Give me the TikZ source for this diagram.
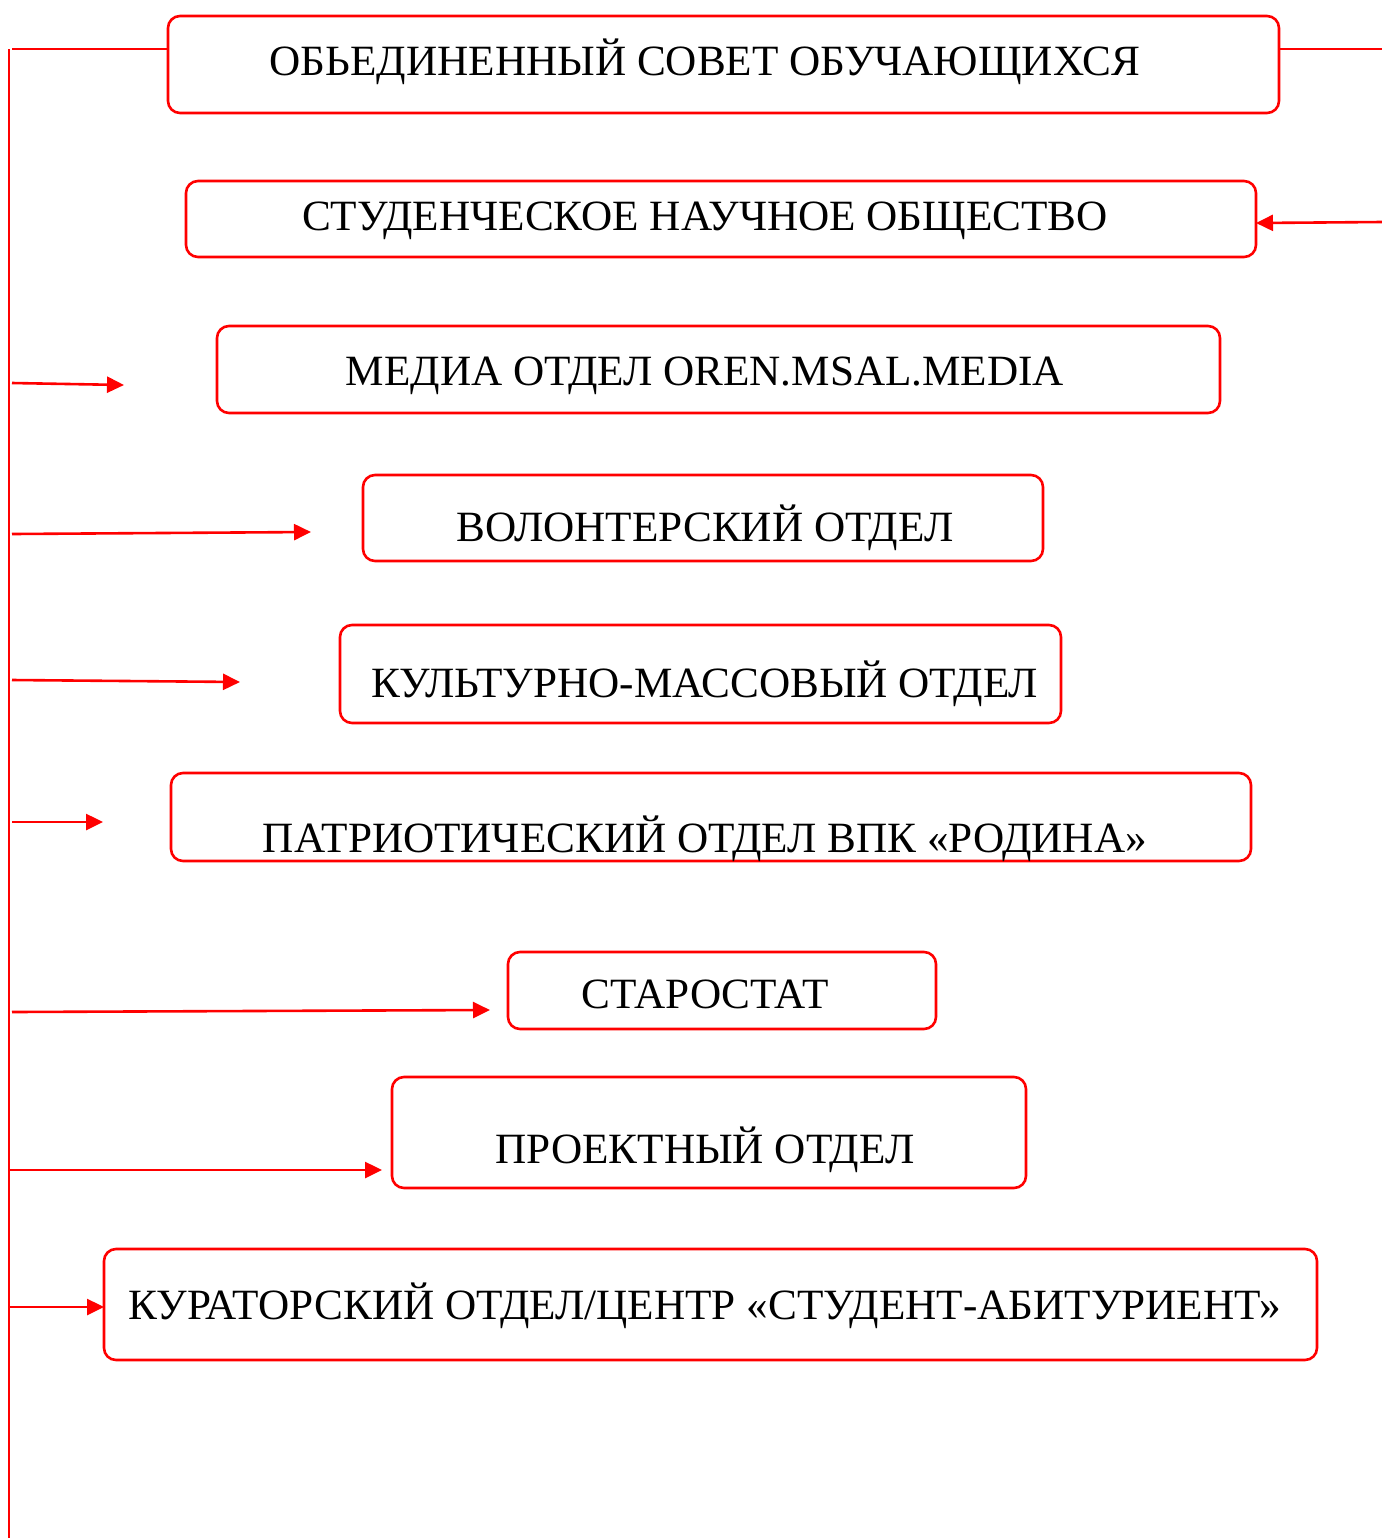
\documentclass[tikz,border=0pt]{standalone}
\usepackage{fontspec}
\setmainfont{Liberation Serif}
\usetikzlibrary{arrows.meta}
\definecolor{lred}{RGB}{255,0,0}
\tikzset{
  box/.style={draw=lred, line width=1.3pt, rounded corners=6pt, inner sep=0pt, outer sep=0pt, rectangle},
  lbl/.style={anchor=base, inner sep=0pt, font=\fontsize{21.6}{25}\selectfont, text=black},
  conn/.style={draw=lred, line width=1.3pt},
  arr/.style={conn, -{Triangle[length=8.5pt,width=8pt]}}
}
\begin{document}
\begin{tikzpicture}[x=0.5pt,y=-0.5pt]
\useasboundingbox (0,0) rectangle (1382,1538);
% boxes
\node[box, minimum width=555.5pt, minimum height=48.5pt] (b1) at (723.5,64.5) {};
\node[box, minimum width=535pt, minimum height=38pt] (b2) at (721,219) {};
\node[box, minimum width=501.5pt, minimum height=43.5pt] (b3) at (718.5,369.5) {};
\node[box, minimum width=340pt, minimum height=43pt] (b4) at (703,518) {};
\node[box, minimum width=360.5pt, minimum height=49pt] (b5) at (700.5,674) {};
\node[box, minimum width=540pt, minimum height=44pt] (b6) at (711,817) {};
\node[box, minimum width=214pt, minimum height=38.5pt] (b7) at (722,990.5) {};
\node[box, minimum width=317pt, minimum height=55.5pt] (b8) at (709,1132.5) {};
\node[box, minimum width=606.5pt, minimum height=55.5pt] (b9) at (710.5,1304.5) {};
% labels
\node[lbl] (t1) at (705,75) {ОБЬЕДИНЕННЫЙ СОВЕТ ОБУЧАЮЩИХСЯ};
\node[lbl] (t2) at (705,230) {СТУДЕНЧЕСКОЕ НАУЧНОЕ ОБЩЕСТВО};
\node[lbl] (t3) at (705,385) {МЕДИА ОТДЕЛ OREN.MSAL.MEDIA};
\node[lbl] (t4) at (705,541) {ВОЛОНТЕРСКИЙ ОТДЕЛ};
\node[lbl] (t5) at (705,697) {КУЛЬТУРНО-МАССОВЫЙ ОТДЕЛ};
\node[lbl] (t6) at (705,852) {ПАТРИОТИЧЕСКИЙ ОТДЕЛ ВПК «РОДИНА»};
\node[lbl] (t7) at (705,1008) {СТАРОСТАТ};
\node[lbl] (t8) at (705,1163) {ПРОЕКТНЫЙ ОТДЕЛ};
\node[lbl] (t9) at (705,1319) {КУРАТОРСКИЙ ОТДЕЛ/ЦЕНТР «СТУДЕНТ-АБИТУРИЕНТ»};
% trunk
\coordinate (trunktop) at (9,49);
\coordinate (trunkbot) at (9,1538);
\draw[conn] (trunktop) -- (trunkbot);
\coordinate (ltop) at (12,49);
\draw[conn] (ltop) -- (ltop -| b1.west);
\coordinate (rtop) at (1382,49);
\draw[conn] (b1.east |- rtop) -- (rtop);
\coordinate (rin) at (1382,222);
\coordinate (rinend) at (1256,223);
\draw[arr] (rin) -- (rinend);
% left arrows
\coordinate (s3) at (12,383); \coordinate (e3) at (124,385);
\coordinate (s4) at (12,534); \coordinate (e4) at (311,532);
\coordinate (s5) at (12,680); \coordinate (e5) at (240,682);
\coordinate (s6) at (12,822); \coordinate (e6) at (103,822);
\coordinate (s7) at (12,1012); \coordinate (e7) at (490,1010);
\coordinate (s8) at (9,1170); \coordinate (e8) at (382,1170);
\coordinate (s9) at (9,1307);
\draw[arr] (s3) -- (e3);
\draw[arr] (s4) -- (e4);
\draw[arr] (s5) -- (e5);
\draw[arr] (s6) -- (e6);
\draw[arr] (s7) -- (e7);
\draw[arr] (s8) -- (e8);
\draw[arr] (s9) -- (s9 -| b9.west);
\end{tikzpicture}
\end{document}
